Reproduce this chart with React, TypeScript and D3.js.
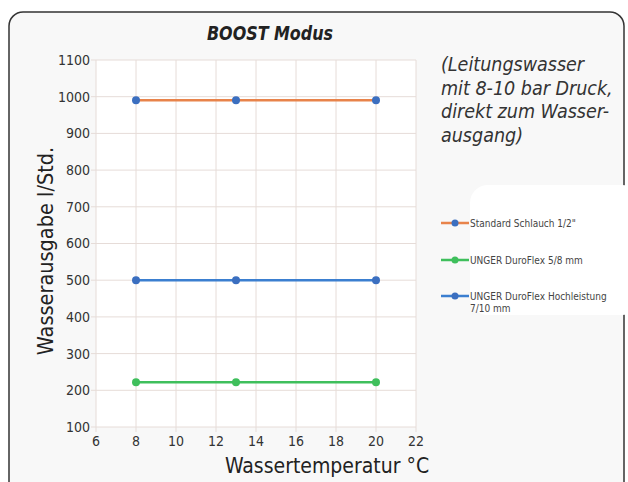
import React, { useEffect, useRef } from 'react';
import * as d3 from 'd3';

const temps = [8, 13, 20];
const standardSchlauch = [990, 990, 990];
const duroFlex58 = [222, 222, 222];
const duroFlexHoch = [500, 500, 500];

const xTicks = [6, 8, 10, 12, 14, 16, 18, 20, 22];
const yTicks = [100, 200, 300, 400, 500, 600, 700, 800, 900, 1000, 1100];

const series = [
  { name: 'Standard Schlauch 1/2"', values: standardSchlauch, line: '#e8834a', marker: '#3b6fc0' },
  { name: 'UNGER DuroFlex 5/8 mm', values: duroFlex58, line: '#3fbf5c', marker: '#3fbf5c' },
  { name: 'UNGER DuroFlex Hochleistung', name2: '7/10 mm', values: duroFlexHoch, line: '#3b7fd0', marker: '#3b6fc0' },
];

const noteLines = ['(Leitungswasser', 'mit 8-10 bar Druck,', 'direkt zum Wasser-', 'ausgang)'];

const W = 628;
const H = 482;
const font = '"DejaVu Sans Condensed", "Liberation Sans Narrow", Roboto, sans-serif';

export default function App() {
  const svgRef = useRef<SVGSVGElement>(null);

  useEffect(() => {
    if (!svgRef.current) return;
    const svg = d3.select(svgRef.current);
    svg.selectAll('*').remove();

    // outer frame
    svg.append('rect').attr('width', W).attr('height', H).attr('fill', '#ffffff');
    svg.append('rect')
      .attr('x', 9).attr('y', 12).attr('width', 615).attr('height', 490)
      .attr('rx', 14).attr('fill', '#f8f8f8').attr('stroke', '#333').attr('stroke-width', 1.5);

    const x = d3.scaleLinear().domain([6, 22]).range([96, 416]);
    const y = d3.scaleLinear().domain([100, 1100]).range([427, 60]);

    // plot background
    svg.append('rect')
      .attr('x', x(6)).attr('y', y(1100))
      .attr('width', x(22) - x(6)).attr('height', y(100) - y(1100))
      .attr('fill', '#ffffff');

    const grid = svg.append('g');
    grid.selectAll('line.v').data(xTicks).enter().append('line')
      .attr('x1', d => x(d)).attr('x2', d => x(d))
      .attr('y1', y(1100)).attr('y2', y(100) + 5)
      .attr('stroke', '#e6dcd8').attr('stroke-width', 1);
    grid.selectAll('line.h').data(yTicks).enter().append('line')
      .attr('x1', x(6) - 5).attr('x2', x(22))
      .attr('y1', d => y(d)).attr('y2', d => y(d))
      .attr('stroke', '#e6dcd8').attr('stroke-width', 1);

    // y tick labels
    svg.append('g').selectAll('text').data(yTicks).enter().append('text')
      .attr('x', x(6) - 6).attr('y', d => y(d)).attr('dy', '0.35em')
      .attr('text-anchor', 'end').attr('font-family', font).attr('font-size', 14)
      .attr('fill', '#333').text(d => d);

    // x tick labels
    svg.append('g').selectAll('text').data(xTicks).enter().append('text')
      .attr('x', d => x(d)).attr('y', y(100) + 19)
      .attr('text-anchor', 'middle').attr('font-family', font).attr('font-size', 14)
      .attr('fill', '#333').text(d => d);

    // series
    const line = d3.line<number>().x((_, i) => x(temps[i])).y(d => y(d));
    series.forEach(s => {
      svg.append('path').attr('d', line(s.values)).attr('fill', 'none')
        .attr('stroke', s.line).attr('stroke-width', 2.5);
      svg.append('g').selectAll('circle').data(s.values).enter().append('circle')
        .attr('cx', (_, i) => x(temps[i])).attr('cy', d => y(d)).attr('r', 4)
        .attr('fill', s.marker);
    });

    // title
    svg.append('text').attr('x', 270).attr('y', 40).attr('text-anchor', 'middle')
      .attr('font-family', font).attr('font-size', 20).attr('font-weight', 'bold')
      .attr('font-style', 'italic').attr('fill', '#222')
      .attr('textLength', 126).attr('lengthAdjust', 'spacingAndGlyphs').text('BOOST Modus');

    // axis titles
    svg.append('text').attr('transform', `translate(53,251) rotate(-90)`)
      .attr('text-anchor', 'middle').attr('font-family', font).attr('font-size', 21.5)
      .attr('fill', '#222').text('Wasserausgabe l/Std.');
    svg.append('text').attr('x', 327).attr('y', 473).attr('text-anchor', 'middle')
      .attr('font-family', font).attr('font-size', 21)
      .attr('fill', '#222').text('Wassertemperatur °C');

    // note
    svg.append('g').selectAll('text').data(noteLines).enter().append('text')
      .attr('x', 441).attr('y', (_, i) => 71 + i * 23.5)
      .attr('font-family', font).attr('font-size', 19.5).attr('font-style', 'italic')
      .attr('fill', '#333').text(d => d);

    // legend
    svg.append('rect').attr('x', 470).attr('y', 185).attr('width', 170).attr('height', 130)
      .attr('rx', 18).attr('fill', '#ffffff');
    const ly = [223, 260, 296];
    series.forEach((s, i) => {
      const g = svg.append('g').attr('transform', `translate(441,${ly[i]})`);
      g.append('line').attr('x1', 0).attr('x2', 28).attr('y1', 0).attr('y2', 0)
        .attr('stroke', s.line).attr('stroke-width', 2.5);
      g.append('circle').attr('cx', 14).attr('cy', 0).attr('r', 3.5).attr('fill', s.marker);
      g.append('text').attr('x', 29).attr('y', 0).attr('dy', '0.35em')
        .attr('font-family', font).attr('font-size', 10).attr('fill', '#444').text(s.name);
      if (s.name2) {
        g.append('text').attr('x', 29).attr('y', 12).attr('dy', '0.35em')
          .attr('font-family', font).attr('font-size', 10).attr('fill', '#444').text(s.name2);
      }
    });
  }, []);

  return (
    <svg ref={svgRef} width={W} height={H}
      style={{ position: 'fixed', left: 0, top: 0, display: 'block' }} />
  );
}
